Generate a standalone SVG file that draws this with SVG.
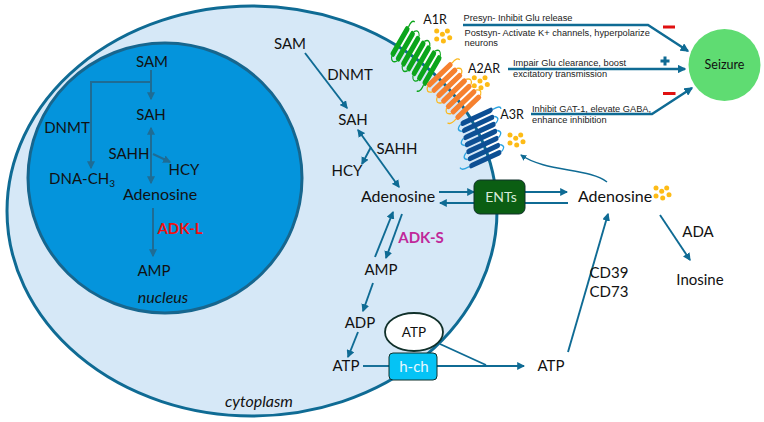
<svg xmlns="http://www.w3.org/2000/svg" width="764" height="422" viewBox="0 0 764 422">
<style>
text{font-family:Lato,"Open Sans",sans-serif;font-size:15px;fill:#111;text-anchor:middle}
.note{font-family:"Liberation Sans",Arial,sans-serif;font-size:9.25px;text-anchor:start;fill:#222}
.it{font-style:italic;font-size:16px}
.big{font-size:16px}
.rec{font-size:12.5px}
.bold{font-weight:700}
.c{fill:none;stroke:#0f6b94;stroke-width:1.9}
.n{fill:none;stroke:#1f6c94;stroke-width:2}
.w{fill:none;stroke:#0f6b94;stroke-width:2.4}
.box{stroke:#10302a;stroke-width:1}
.bar{stroke:none;fill:currentColor}
.loop{fill:none;stroke-width:1.3}
</style>
<defs>
<marker id="a" viewBox="0 0 10 10" refX="8.5" refY="5" markerWidth="4.2" markerHeight="4.2" orient="auto-start-reverse"><path d="M0 0L10 5L0 10Z" fill="#0f6b94"/></marker>
<marker id="b" viewBox="0 0 10 10" refX="8.5" refY="5" markerWidth="4" markerHeight="4" orient="auto-start-reverse"><path d="M0 0L10 5L0 10Z" fill="#1f6c94"/></marker>
<marker id="w" viewBox="0 0 10 10" refX="8.5" refY="5" markerWidth="3.6" markerHeight="3.6" orient="auto"><path d="M0 0L10 5L0 10Z" fill="#0f6b94"/></marker>
<g id="dots" fill="#fdbb16">
<circle cx="0" cy="0" r="2.500"/><circle cx="10.700" cy="0" r="2.500"/><circle cx="5.700" cy="3.300" r="2.500"/><circle cx="13" cy="6.700" r="2.500"/><circle cx="0" cy="8" r="2.500"/><circle cx="6.700" cy="10" r="2.500"/>
</g>
<g id="bars">
<rect class="bar" x="-24.200" y="-17" width="5.200" height="34" rx="2.600"/>
<rect class="bar" x="-17" y="-17" width="5.200" height="34" rx="2.600"/>
<rect class="bar" x="-9.800" y="-17" width="5.200" height="34" rx="2.600"/>
<rect class="bar" x="-2.600" y="-17" width="5.200" height="34" rx="2.600"/>
<rect class="bar" x="4.600" y="-17" width="5.200" height="34" rx="2.600"/>
<rect class="bar" x="11.800" y="-17" width="5.200" height="34" rx="2.600"/>
<rect class="bar" x="19" y="-17" width="5.200" height="34" rx="2.600"/>
</g>
<path id="loops" class="loop" d="M-21.600-17q-1-8 3-8M-21.600 17q3.600 6 7.200 0M-14.400-17q3.600-6 7.200 0M-7.200 17q3.600 6 7.200 0M0-17q3.600-6 7.200 0M7.200 17q3.600 6 7.200 0M14.400-17q3.600-6 7.200 0M21.600 17q1 8-3 9"/>
</defs>

<g id="cell"><ellipse cx="252" cy="211" rx="245" ry="205" fill="#d6e8f7" stroke="#0f6b94" stroke-width="3"/></g>
<g id="nucleus"><ellipse cx="165" cy="178" rx="137" ry="135" fill="#0494dc" stroke="#17668e" stroke-width="3"/></g>

<g id="connectors">
<path class="n" marker-end="url(#b)" d="M151 70V99"/>
<path class="n" marker-end="url(#b)" d="M151 82H91V168"/>
<path class="n" marker-start="url(#b)" marker-end="url(#b)" d="M151 128V183"/>
<path class="n" marker-end="url(#b)" d="M153 154L170 162"/>
<path class="n" marker-end="url(#b)" d="M153 208V256"/>
<path class="c" marker-end="url(#a)" d="M305 53L347 108"/>
<path class="c" marker-start="url(#a)" marker-end="url(#a)" d="M358 130L399 187"/>
<path class="c" marker-end="url(#a)" d="M371 147L362 164"/>
<path class="c" marker-end="url(#a)" d="M439 192H474"/>
<path class="c" marker-end="url(#a)" d="M474 203H440"/>
<path class="c" marker-end="url(#a)" d="M525 192H567"/>
<path class="c" d="M568 203H525"/>
<path class="c" marker-end="url(#a)" d="M375 257L393 212"/>
<path class="c" marker-end="url(#a)" d="M402 214L386 258"/>
<path class="c" marker-end="url(#a)" d="M373 283L363 311"/>
<path class="c" marker-end="url(#a)" d="M358 332L348 357"/>
<path class="c" d="M363 366H389"/>
<path class="c" marker-end="url(#a)" d="M437 366H524"/>
<path class="c" d="M440 344L486 365"/>
<path class="c" marker-end="url(#a)" d="M568 352L608 214"/>
<path class="c" marker-end="url(#a)" d="M660 215L690 260"/>
<path class="c" marker-end="url(#a)" style="stroke-width:1.5" d="M607 182C590 168 545 172 521 155"/>
<path class="w" marker-end="url(#w)" d="M463 25H648L688 51"/>
<path class="w" marker-end="url(#w)" d="M508 69H685"/>
<path class="w" marker-end="url(#w)" d="M531 114H652L692 88"/>
</g>

<!-- Seven-helix receptors sitting across the membrane -->
<g id="a1r" color="#0ca51b" transform="matrix(.74 .67 -.5 .866 416 56)"><use href="#loops" stroke="#0ca51b"/><use href="#bars"/></g>
<g id="a2ar" color="#f6812f" transform="matrix(.66 .75 -.72 .69 454 91)"><use href="#loops" stroke="#fbb81e"/><use href="#bars"/></g>
<g id="a3r" color="#0d4f94" transform="matrix(.2 .98 -.95 .44 481 138)"><use href="#loops" stroke="#2ba3e0"/><use href="#bars"/></g>
<use id="a1r-dots" href="#dots" x="436.700" y="31"/>
<use id="a2ar-dots" href="#dots" x="474.300" y="77.700"/>
<use id="a3r-dots" href="#dots" x="510" y="135"/>
<use id="adenosine-dots" href="#dots" x="656" y="188"/>

<g id="seizure"><circle cx="724.500" cy="65" r="36" fill="#5fdc72"/><text x="724.500" y="69" style="font-size:12.500px">Seizure</text></g>
<g id="ents"><rect class="box" x="474" y="180" width="51" height="34" rx="6" fill="#0b5e13"/><text x="501" y="202" style="font-size:14px;fill:#d8ead8">ENTs</text></g>
<g id="hch"><rect class="box" x="389" y="353" width="48" height="27" rx="4" fill="#05c3f5"/><text x="414" y="372" style="fill:#e8f8ff">h-ch</text></g>
<g id="atp-vesicle"><ellipse cx="414" cy="332" rx="29" ry="19" fill="#fff" stroke="#10302a" stroke-width="1.800"/><text x="414" y="337" style="font-size:13.500px">ATP</text></g>

<g id="nucleus-labels">
<text x="152" y="67">SAM</text>
<text x="151" y="120">SAH</text>
<text x="67" y="133">DNMT</text>
<text x="129" y="159">SAHH</text>
<text x="184" y="175">HCY</text>
<text x="82" y="184">DNA-CH<tspan dy="3" style="font-size:10px">3</tspan></text>
<text class="big" x="160" y="200">Adenosine</text>
<text class="bold" x="180" y="234" style="fill:#f01010">ADK-L</text>
<text x="154" y="276">AMP</text>
<text class="it" x="163" y="303">nucleus</text>
</g>
<g id="cytoplasm-labels">
<text x="290" y="49">SAM</text>
<text x="350" y="80">DNMT</text>
<text x="353" y="125">SAH</text>
<text x="397" y="154">SAHH</text>
<text x="347" y="176">HCY</text>
<text class="big" x="398" y="202">Adenosine</text>
<text class="bold" x="421" y="243" style="fill:#c0289a">ADK-S</text>
<text x="381" y="275">AMP</text>
<text x="360" y="328">ADP</text>
<text x="346" y="371">ATP</text>
<text class="it" x="259" y="407">cytoplasm</text>
</g>
<g id="outer-labels">
<text x="551" y="371">ATP</text>
<text class="big" x="615" y="202">Adenosine</text>
<text x="698" y="237">ADA</text>
<text x="700" y="285">Inosine</text>
<text x="609" y="278">CD39</text>
<text x="609" y="297">CD73</text>
<text class="rec" x="435" y="24">A1R</text>
<text class="rec" x="484" y="73">A2AR</text>
<text class="rec" x="512" y="119">A3R</text>
</g>
<g id="notes">
<text class="note" x="463.500" y="21">Presyn- Inhibit Glu release</text>
<text class="note" x="464.500" y="36">Postsyn- Activate K+ channels, hyperpolarize</text>
<text class="note" x="464.500" y="46">neurons</text>
<text class="note" x="513" y="65.500">Impair Glu clearance, boost</text>
<text class="note" x="513" y="76.500">excitatory transmission</text>
<text class="note" x="532" y="112">Inhibit GAT-1, elevate GABA,</text>
<text class="note" x="532" y="122.500">enhance inhibition</text>
</g>
<g id="signs">
<rect x="663" y="25.500" width="12" height="3" fill="#e01010"/>
<path d="M665 56.500V65.500M660.500 61H669.500" stroke="#0f6b94" stroke-width="3" fill="none"/>
<rect x="663" y="92" width="12.500" height="3" fill="#e01010"/>
</g>
</svg>
